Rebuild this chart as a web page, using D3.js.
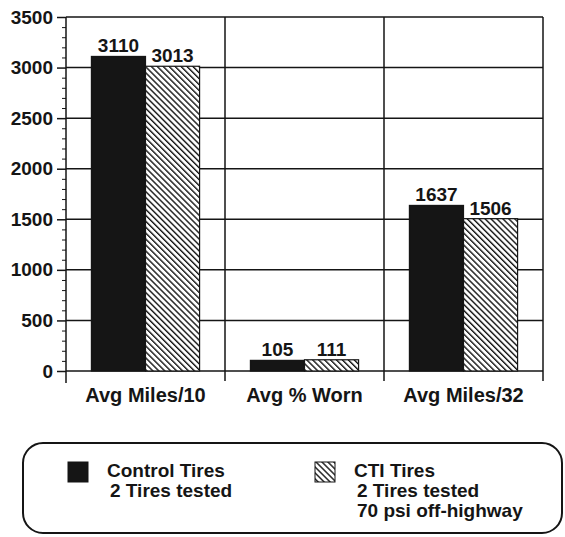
<!DOCTYPE html>
<html>
<head>
<meta charset="utf-8">
<script src="https://cdn.jsdelivr.net/npm/d3@7"></script>
<style>
  body { margin: 0; background: #fff; }
  svg { font-family: "Liberation Sans", Arial, Helvetica, sans-serif; font-weight: bold; }
</style>
</head>
<body>
<svg width="565" height="537"></svg>
<script>
const categories = ["Avg Miles/10", "Avg % Worn", "Avg Miles/32"];
const seriesNames = ["Control Tires", "CTI Tires"];
const controlValues = [3110, 105, 1637];
const ctiValues = [3013, 111, 1506];
const yTicks = [0, 500, 1000, 1500, 2000, 2500, 3000, 3500];
const legendLines = [
  ["Control Tires", "2 Tires tested"],
  ["CTI Tires", "2 Tires tested", "70 psi off-highway"]
];

function createTireChart() {
  const svg = d3.select("svg");
  const ink = "#151515";

  // hatch pattern for the CTI bars (lines running top-left to bottom-right)
  svg.append("defs")
    .append("pattern")
    .attr("id", "hatch")
    .attr("patternUnits", "userSpaceOnUse")
    .attr("width", 4.2)
    .attr("height", 4.2)
    .attr("patternTransform", "rotate(-45)")
    .call((p) => {
      p.append("rect").attr("width", 4.2).attr("height", 4.2).attr("fill", "#fff");
      p.append("rect").attr("x", 0).attr("width", 1.4).attr("height", 4.2).attr("fill", ink);
    });

  const plotTop = 17, plotBottom = 371, plotLeft = 66, plotRight = 543;

  const y = d3.scaleLinear().domain([0, 3500]).range([plotBottom, plotTop]);
  const x0 = d3.scaleBand().domain(categories).range([plotLeft, plotRight]).padding(0);
  const x1 = d3.scaleBand().domain(seriesNames).range([0, x0.bandwidth()]).paddingInner(0).paddingOuter(0.47);

  const data = categories.map((c, i) => ({
    category: c,
    values: [
      { series: seriesNames[0], value: controlValues[i] },
      { series: seriesNames[1], value: ctiValues[i] }
    ]
  }));

  // horizontal grid lines
  svg.append("g")
    .selectAll("line")
    .data(yTicks)
    .enter()
    .append("line")
    .attr("x1", plotLeft)
    .attr("x2", plotRight)
    .attr("y1", (d) => y(d))
    .attr("y2", (d) => y(d))
    .attr("stroke", ink)
    .attr("stroke-width", 1.5);

  // vertical separators between categories, running a bit below zero
  svg.append("g")
    .selectAll("line")
    .data(categories)
    .enter()
    .append("line")
    .attr("x1", (d) => x0(d) + x0.bandwidth())
    .attr("x2", (d) => x0(d) + x0.bandwidth())
    .attr("y1", plotTop)
    .attr("y2", plotBottom + 10)
    .attr("stroke", ink)
    .attr("stroke-width", 1.5);

  // y axis with minor ticks every 100
  const minor = d3.range(0, 3501, 100).filter((d) => d % 500 !== 0);
  svg.append("g")
    .attr("transform", "translate(" + plotLeft + ",0)")
    .call(d3.axisLeft(y).tickValues(minor).tickSize(4).tickFormat(""))
    .call((g) => g.select(".domain").remove())
    .call((g) => g.selectAll("line").attr("stroke", ink).attr("stroke-width", 1));

  const yAxis = svg.append("g")
    .attr("transform", "translate(" + plotLeft + ",0)")
    .call(d3.axisLeft(y).tickValues(yTicks).tickSize(9).tickPadding(4).tickFormat(d3.format("d")));
  yAxis.select(".domain").remove();
  yAxis.selectAll("line").attr("stroke", ink).attr("stroke-width", 1.5);
  yAxis.selectAll("text")
    .attr("fill", ink)
    .style("font-size", "19px")
    .style("font-weight", "bold")
    .style("font-family", "Liberation Sans, Arial, sans-serif");

  svg.append("line")
    .attr("x1", plotLeft)
    .attr("x2", plotLeft)
    .attr("y1", plotTop)
    .attr("y2", plotBottom + 12)
    .attr("stroke", ink)
    .attr("stroke-width", 1.5);

  // bars
  const groups = svg.append("g")
    .selectAll("g")
    .data(data)
    .enter()
    .append("g")
    .attr("transform", (d) => "translate(" + x0(d.category) + ",0)");

  groups.selectAll("rect")
    .data((d) => d.values)
    .enter()
    .append("rect")
    .attr("x", (d) => x1(d.series))
    .attr("width", x1.bandwidth())
    .attr("y", (d) => y(d.value))
    .attr("height", (d) => y(0) - y(d.value))
    .attr("fill", (d, i) => (i === 0 ? ink : "url(#hatch)"))
    .attr("stroke", ink)
    .attr("stroke-width", 1.2);

  groups.selectAll("text")
    .data((d) => d.values)
    .enter()
    .append("text")
    .attr("x", (d) => x1(d.series) + x1.bandwidth() / 2)
    .attr("y", (d) => y(d.value) - 4)
    .attr("text-anchor", "middle")
    .attr("fill", ink)
    .style("font-size", "19px")
    .text((d) => d.value);

  // category labels
  svg.append("g")
    .selectAll("text")
    .data(categories)
    .enter()
    .append("text")
    .attr("x", (d) => x0(d) + x0.bandwidth() / 2)
    .attr("y", 402)
    .attr("text-anchor", "middle")
    .attr("fill", ink)
    .style("font-size", "20px")
    .text((d) => d);

  // legend box
  svg.append("rect")
    .attr("x", 23)
    .attr("y", 443)
    .attr("width", 539)
    .attr("height", 90)
    .attr("rx", 20)
    .attr("ry", 20)
    .attr("fill", "none")
    .attr("stroke", ink)
    .attr("stroke-width", 2);

  const legendX = [68, 315];
  const legend = svg.append("g")
    .selectAll("g")
    .data(seriesNames)
    .enter()
    .append("g")
    .attr("transform", (d, i) => "translate(" + legendX[i] + ",462)");

  legend.append("rect")
    .attr("width", 20)
    .attr("height", 20)
    .attr("fill", (d, i) => (i === 0 ? ink : "url(#hatch)"))
    .attr("stroke", ink)
    .attr("stroke-width", 1);

  legend.each(function (d, i) {
    d3.select(this)
      .selectAll("text")
      .data(legendLines[i])
      .enter()
      .append("text")
      .attr("x", (t, j) => (j === 0 ? 39 : 42))
      .attr("y", (t, j) => 15 + j * 20)
      .attr("fill", ink)
      .style("font-size", "19px")
      .text((t) => t);
  });
}

createTireChart();
</script>
</body>
</html>
